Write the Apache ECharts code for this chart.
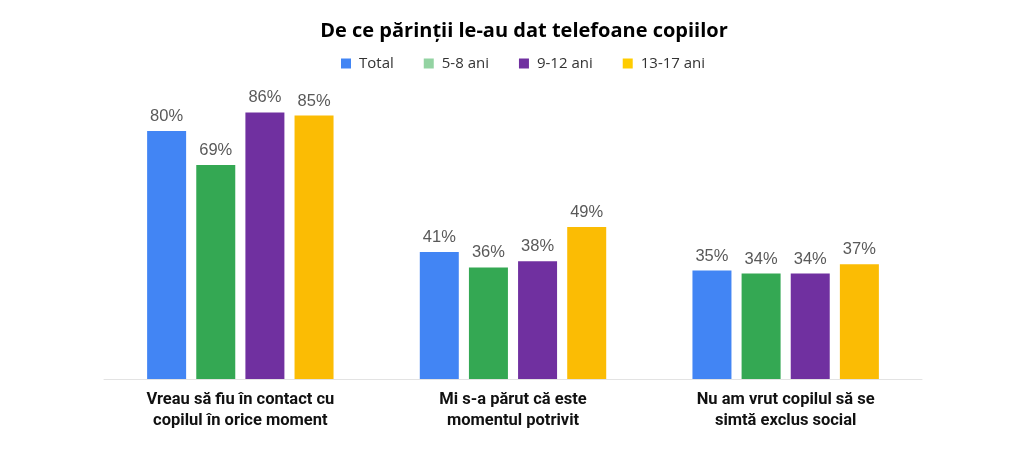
<!DOCTYPE html>
<html><head><meta charset="utf-8">
<script src="https://cdn.jsdelivr.net/npm/echarts@6/dist/echarts.min.js"></script>
<style>html,body{margin:0;padding:0;background:#fff}#c{width:1024px;height:460px}</style>
</head><body><div id="c"></div>
<script>
const categories = ['Vreau să fiu în contact cu\ncopilul în orice moment', 'Mi s-a părut că este\nmomentul potrivit', 'Nu am vrut copilul să se\nsimtă exclus social'];
const seriesNames = ['Total', '5-8 ani', '9-12 ani', '13-17 ani'];
const total = [80, 41, 35];
const age5to8 = [69, 36, 34];
const age9to12 = [86, 38, 34];
const age13to17 = [85, 49, 37];
const values = [total, age5to8, age9to12, age13to17];
const colors = ['#4285F4', '#34A853', '#7030A0', '#FBBC04'];
const legendColors = ['#4285F4', '#93D3A2', '#7030A0', '#FFCC00'];

const chart = echarts.init(document.getElementById('c'));
chart.setOption({
  animation: false,
  title: {
    text: 'De ce părinții le-au dat telefoane copiilor',
    left: 519, textAlign: 'center', top: 16,
    textStyle: {fontFamily: 'Open Sans', fontWeight: 'bold', fontSize: 20, color: '#000'}
  },
  legend: {
    top: 51, left: 336, icon: 'rect', itemWidth: 10, itemHeight: 10, itemGap: 30,
    textStyle: {fontFamily: 'Open Sans', fontSize: 15, color: '#333', padding: [0, 0, 0, 3]},
    data: seriesNames.map((n, i) => ({name: n, itemStyle: {color: legendColors[i]}}))
  },
  grid: {left: 104, right: 102, top: 69, bottom: 81},
  xAxis: {
    type: 'category', data: categories,
    axisLine: {lineStyle: {color: '#e3e3e3', width: 1}},
    axisTick: {show: false},
    axisLabel: {margin: 10, lineHeight: 21, fontFamily: 'Roboto', fontWeight: 'bold', fontSize: 16.5, color: '#111'}
  },
  yAxis: {type: 'value', min: 0, max: 100, show: false, splitLine: {show: false}},
  series: seriesNames.map((n, i) => ({
    name: n, type: 'bar', data: values[i], barWidth: 39, barGap: '26%',
    itemStyle: {color: colors[i]},
    label: {show: true, position: 'top', distance: 6, formatter: '{c}%', fontFamily: 'Liberation Sans', fontSize: 16.5, color: '#595959'}
  }))
});
</script></body></html>
